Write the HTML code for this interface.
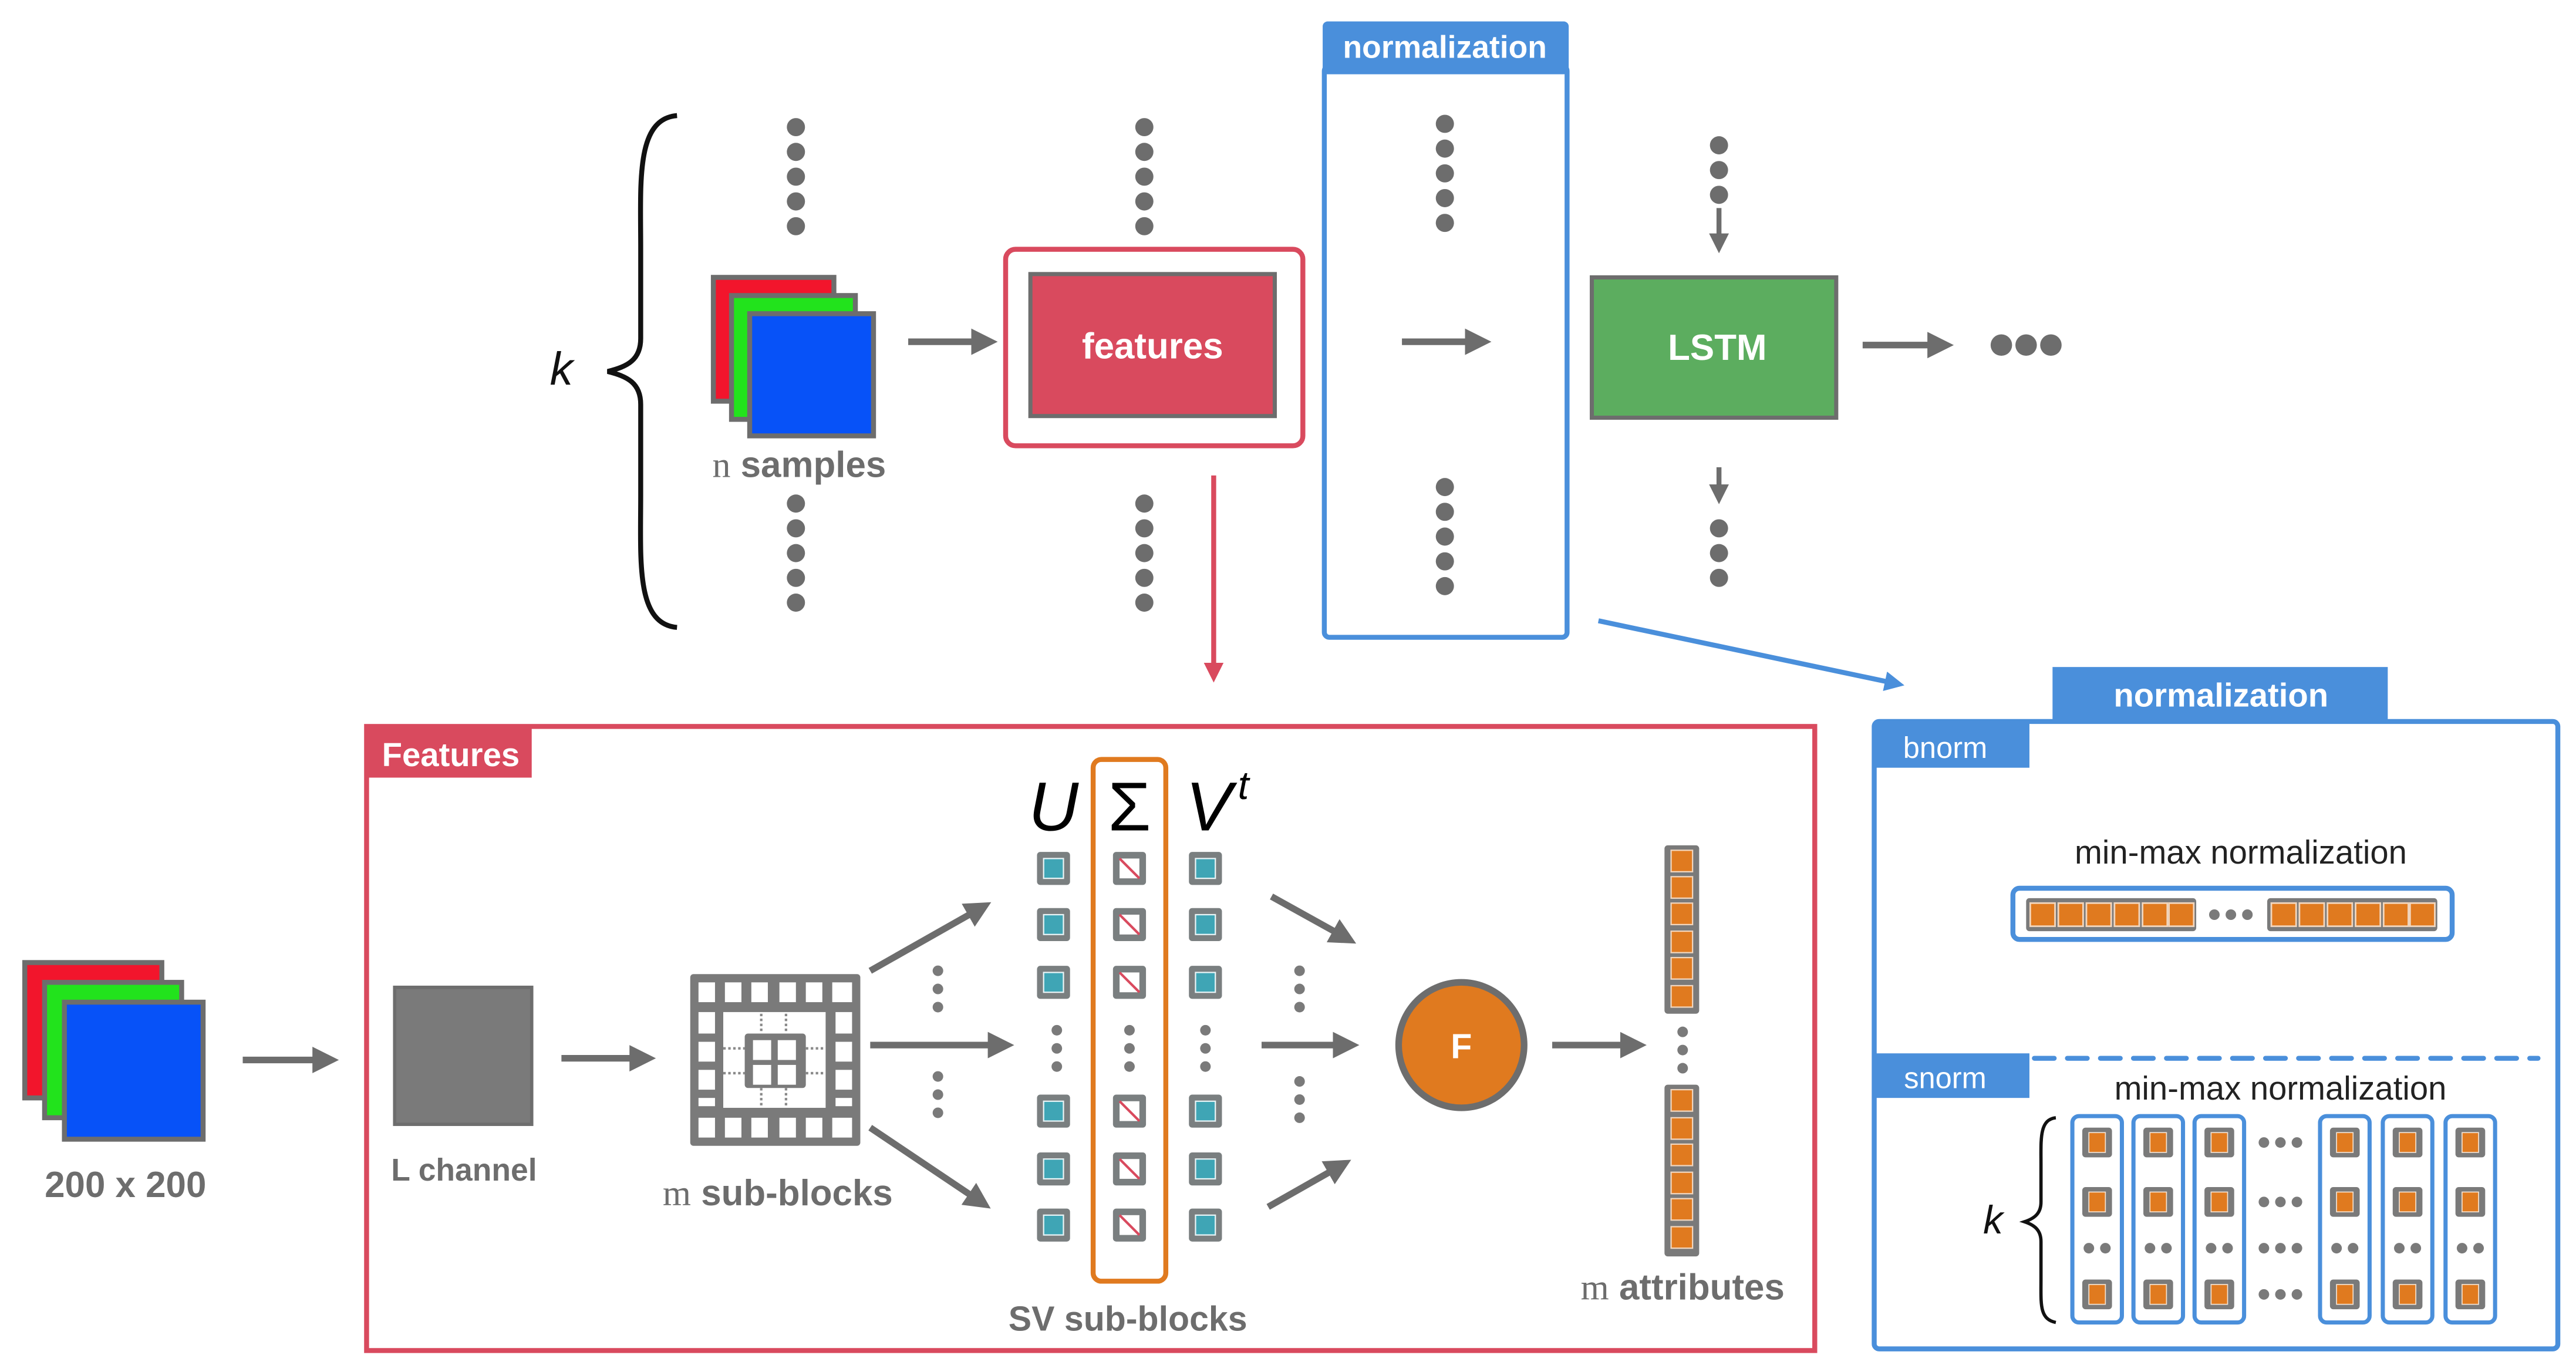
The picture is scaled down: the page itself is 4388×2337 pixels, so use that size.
<!DOCTYPE html>
<html><head><meta charset="utf-8"><style>
html,body{margin:0;padding:0;background:#fff;}
svg{display:block;}
text{font-family:"Liberation Sans",sans-serif;}
</style></head><body>
<svg width="4388" height="2337" viewBox="0 0 1560 831" preserveAspectRatio="none" xmlns="http://www.w3.org/2000/svg">
<defs>
<marker id="ah" markerWidth="4" markerHeight="4" refX="2.2" refY="2" orient="auto" markerUnits="strokeWidth"><path d="M0,0 L4,2 L0,4 z" fill="#6d6d6d"/></marker>
<marker id="ahr" markerWidth="4" markerHeight="4" refX="2.2" refY="2" orient="auto" markerUnits="strokeWidth"><path d="M0,0 L4,2 L0,4 z" fill="#d94a5e"/></marker>
<marker id="ahb" markerWidth="4" markerHeight="4" refX="2.2" refY="2" orient="auto" markerUnits="strokeWidth"><path d="M0,0 L4,2 L0,4 z" fill="#4a8fdb"/></marker>
<g id="d"><circle r="5.5" fill="#6d6d6d"/></g>
<g id="sd"><circle r="3.2" fill="#7a7a7a"/></g>
<g id="col5"><use href="#d" y="0"/><use href="#d" y="15"/><use href="#d" y="30"/><use href="#d" y="45"/><use href="#d" y="60"/></g>
<g id="uc"><rect x="-10" y="-10" width="20" height="20" rx="2" fill="#7a7f80"/><rect x="-6" y="-6" width="12" height="12" fill="#3fa5b5" stroke="#e8f4f6" stroke-width="0.8"/></g>
<g id="sc"><rect x="-10" y="-10" width="20" height="20" rx="2" fill="#7a7f80"/><rect x="-6" y="-6" width="12" height="12" fill="#fff"/><line x1="-6" y1="-6" x2="6" y2="6" stroke="#d94a5e" stroke-width="1.5"/></g>
<g id="oc"><rect x="-9" y="-9" width="18" height="18" rx="2" fill="#7a7a7a"/><rect x="-5" y="-6" width="10" height="12" fill="#e07a1f" stroke="#f5e2d0" stroke-width="0.6"/></g>
<g id="sq"><rect x="-7.5" y="-7" width="15" height="14" fill="#e07a1f" stroke="#f2d6bd" stroke-width="1"/></g>
<g id="vd"><use href="#sd" y="0"/><use href="#sd" y="11"/><use href="#sd" y="22"/></g>
<g id="scol"><rect x="-15" y="0" width="30" height="125" rx="4" fill="#fff" stroke="#4a8fdb" stroke-width="2.5"/><use href="#oc" y="16"/><use href="#oc" y="52"/><use href="#sd" x="-5" y="80"/><use href="#sd" x="5" y="80"/><use href="#oc" y="108"/></g>
</defs>

<!-- ===== TOP ===== -->
<path d="M410,70 C385,72 388,110 388,150 L388,205 C388,218 380,222 368,225 C380,228 388,232 388,245 L388,300 C388,340 385,378 410,380" fill="none" stroke="#111" stroke-width="3"/>
<text x="340" y="233" font-family="Liberation Serif,serif" font-style="italic" font-size="28" text-anchor="middle" fill="#111">k</text>

<use href="#col5" x="482" y="77"/><use href="#col5" x="482" y="305"/>
<rect x="432" y="168" width="73" height="75" fill="#f2152c" stroke="#6d6d6d" stroke-width="3"/>
<rect x="443" y="179" width="75" height="75" fill="#22e31c" stroke="#6d6d6d" stroke-width="3"/>
<rect x="454" y="190" width="75" height="74" fill="#0752f8" stroke="#6d6d6d" stroke-width="3"/>
<text x="484" y="289" font-size="22" font-weight="bold" text-anchor="middle" fill="#6d6d6d"><tspan font-family="Liberation Serif,serif" font-weight="normal">n</tspan> samples</text>
<line x1="550" y1="207" x2="597" y2="207" stroke="#6d6d6d" stroke-width="4" marker-end="url(#ah)"/>

<rect x="609" y="151" width="180" height="119" rx="6" fill="#fff" stroke="#d94a5e" stroke-width="3"/>
<rect x="624" y="166" width="148" height="86" fill="#d94a5e" stroke="#6d6d6d" stroke-width="2.5"/>
<text x="698" y="217" font-size="22" font-weight="bold" text-anchor="middle" fill="#fff">features</text>
<use href="#col5" x="693" y="77"/><use href="#col5" x="693" y="305"/>
<line x1="735" y1="288" x2="735" y2="408" stroke="#d94a5e" stroke-width="3" marker-end="url(#ahr)"/>

<rect x="802" y="40" width="147" height="346" rx="3" fill="#fff" stroke="#4a8fdb" stroke-width="3"/>
<rect x="801" y="13" width="149" height="32" rx="3" fill="#4a8fdb"/>
<text x="875" y="35" font-size="19" font-weight="bold" text-anchor="middle" fill="#fff">normalization</text>
<use href="#col5" x="875" y="75"/><use href="#col5" x="875" y="295"/>
<line x1="849" y1="207" x2="896" y2="207" stroke="#6d6d6d" stroke-width="4" marker-end="url(#ah)"/>

<rect x="964" y="168" width="148" height="85" fill="#5cad5f" stroke="#6d6d6d" stroke-width="2.5"/>
<text x="1040" y="218" font-size="22" font-weight="bold" text-anchor="middle" fill="#fff">LSTM</text>
<use href="#d" x="1041" y="88"/><use href="#d" x="1041" y="103"/><use href="#d" x="1041" y="118"/>
<line x1="1041" y1="126" x2="1041" y2="148" stroke="#6d6d6d" stroke-width="3" marker-end="url(#ah)"/>
<line x1="1041" y1="283" x2="1041" y2="300" stroke="#6d6d6d" stroke-width="3" marker-end="url(#ah)"/>
<use href="#d" x="1041" y="320"/><use href="#d" x="1041" y="335"/><use href="#d" x="1041" y="350"/>
<line x1="1128" y1="209" x2="1176" y2="209" stroke="#6d6d6d" stroke-width="4" marker-end="url(#ah)"/>
<circle cx="1212" cy="209" r="6.5" fill="#6d6d6d"/><circle cx="1227" cy="209" r="6.5" fill="#6d6d6d"/><circle cx="1242" cy="209" r="6.5" fill="#6d6d6d"/>
<line x1="968" y1="376" x2="1148" y2="414" stroke="#4a8fdb" stroke-width="3" marker-end="url(#ahb)"/>

<!-- ===== FEATURES ===== -->
<rect x="222" y="440" width="877" height="378" fill="none" stroke="#d94a5e" stroke-width="3"/>
<rect x="222" y="440" width="100" height="31" fill="#d94a5e"/>
<text x="273" y="464" font-size="20" font-weight="bold" text-anchor="middle" fill="#fff">Features</text>

<rect x="15" y="583" width="83" height="82" fill="#f2152c" stroke="#6d6d6d" stroke-width="3"/>
<rect x="27" y="595" width="83" height="82" fill="#22e31c" stroke="#6d6d6d" stroke-width="3"/>
<rect x="39" y="607" width="84" height="83" fill="#0752f8" stroke="#6d6d6d" stroke-width="3"/>
<text x="76" y="725" font-size="22" font-weight="bold" text-anchor="middle" fill="#6d6d6d">200 x 200</text>
<line x1="147" y1="642" x2="198" y2="642" stroke="#6d6d6d" stroke-width="4" marker-end="url(#ah)"/>

<rect x="239" y="598" width="83" height="83" fill="#7a7a7a" stroke="#6d6d6d" stroke-width="2"/>
<text x="281" y="715" font-size="19" font-weight="bold" text-anchor="middle" fill="#6d6d6d">L channel</text>
<line x1="340" y1="641" x2="390" y2="641" stroke="#6d6d6d" stroke-width="4" marker-end="url(#ah)"/>

<!-- sub-blocks grid -->
<g>
<rect x="418" y="590" width="103" height="104" rx="2" fill="#7a7a7a"/>
<g fill="#fff">
<rect x="423" y="595" width="10" height="12"/><rect x="439" y="595" width="10" height="12"/><rect x="455" y="595" width="10" height="12"/><rect x="472" y="595" width="10" height="12"/><rect x="488" y="595" width="10" height="12"/><rect x="504" y="595" width="12" height="12"/>
<rect x="423" y="677" width="10" height="12"/><rect x="439" y="677" width="10" height="12"/><rect x="455" y="677" width="10" height="12"/><rect x="472" y="677" width="10" height="12"/><rect x="488" y="677" width="10" height="12"/><rect x="504" y="677" width="12" height="12"/>
<rect x="423" y="613" width="10" height="13"/><rect x="423" y="631" width="10" height="12"/><rect x="423" y="648" width="10" height="12"/><rect x="423" y="665" width="10" height="5"/>
<rect x="506" y="613" width="10" height="13"/><rect x="506" y="631" width="10" height="12"/><rect x="506" y="648" width="10" height="12"/><rect x="506" y="665" width="10" height="5"/>
<rect x="438" y="613" width="62" height="58"/>
</g>
<rect x="451" y="626" width="37" height="33" rx="2" fill="#7a7a7a"/>
<rect x="456" y="630" width="11" height="12" fill="#fff"/><rect x="471" y="630" width="11" height="12" fill="#fff"/>
<rect x="456" y="645" width="11" height="12" fill="#fff"/><rect x="471" y="645" width="11" height="12" fill="#fff"/>
<g stroke="#8a8a8a" stroke-width="1.5" stroke-dasharray="1.5,1.5">
<line x1="461" y1="614" x2="461" y2="626"/><line x1="476" y1="614" x2="476" y2="626"/>
<line x1="461" y1="659" x2="461" y2="671"/><line x1="476" y1="659" x2="476" y2="671"/>
<line x1="438" y1="635" x2="451" y2="635"/><line x1="438" y1="650" x2="451" y2="650"/>
<line x1="488" y1="635" x2="500" y2="635"/><line x1="488" y1="650" x2="500" y2="650"/>
</g>
</g>
<text x="471" y="730" font-size="22" font-weight="bold" text-anchor="middle" fill="#6d6d6d"><tspan font-family="Liberation Serif,serif" font-weight="normal">m</tspan> sub-blocks</text>

<line x1="527" y1="588" x2="594" y2="550" stroke="#6d6d6d" stroke-width="4" marker-end="url(#ah)"/>
<line x1="527" y1="633" x2="607" y2="633" stroke="#6d6d6d" stroke-width="4" marker-end="url(#ah)"/>
<line x1="527" y1="683" x2="594" y2="728" stroke="#6d6d6d" stroke-width="4" marker-end="url(#ah)"/>
<use href="#vd" x="568" y="588"/><use href="#vd" x="568" y="652"/>

<!-- SVD -->
<text x="638" y="503" font-family="Liberation Serif,serif" font-style="italic" font-size="42" text-anchor="middle" fill="#000">U</text>
<text x="684" y="503" font-family="Liberation Serif,serif" font-size="42" text-anchor="middle" fill="#000">Σ</text>
<text x="732" y="503" font-family="Liberation Serif,serif" font-style="italic" font-size="42" text-anchor="middle" fill="#000">V</text>
<text x="753" y="484" font-family="Liberation Serif,serif" font-style="italic" font-size="24" text-anchor="middle" fill="#000">t</text>
<rect x="662" y="460" width="44" height="316" rx="5" fill="none" stroke="#e07a1f" stroke-width="3"/>
<use href="#uc" x="638" y="526"/><use href="#uc" x="638" y="560"/><use href="#uc" x="638" y="595"/><use href="#uc" x="638" y="673"/><use href="#uc" x="638" y="708"/><use href="#uc" x="638" y="742"/>
<use href="#sc" x="684" y="526"/><use href="#sc" x="684" y="560"/><use href="#sc" x="684" y="595"/><use href="#sc" x="684" y="673"/><use href="#sc" x="684" y="708"/><use href="#sc" x="684" y="742"/>
<use href="#uc" x="730" y="526"/><use href="#uc" x="730" y="560"/><use href="#uc" x="730" y="595"/><use href="#uc" x="730" y="673"/><use href="#uc" x="730" y="708"/><use href="#uc" x="730" y="742"/>
<use href="#vd" x="640" y="624"/><use href="#vd" x="684" y="624"/><use href="#vd" x="730" y="624"/>
<text x="683" y="806" font-size="21" font-weight="bold" text-anchor="middle" fill="#6d6d6d">SV sub-blocks</text>

<line x1="770" y1="543" x2="815" y2="568" stroke="#6d6d6d" stroke-width="4" marker-end="url(#ah)"/>
<line x1="764" y1="633" x2="816" y2="633" stroke="#6d6d6d" stroke-width="4" marker-end="url(#ah)"/>
<line x1="768" y1="731" x2="812" y2="706" stroke="#6d6d6d" stroke-width="4" marker-end="url(#ah)"/>
<use href="#vd" x="787" y="588"/><use href="#vd" x="787" y="655"/>

<circle cx="885" cy="633" r="38" fill="#e07a1f" stroke="#6d6d6d" stroke-width="4"/>
<text x="885" y="641" font-size="21" font-weight="bold" text-anchor="middle" fill="#fff">F</text>
<line x1="940" y1="633" x2="990" y2="633" stroke="#6d6d6d" stroke-width="4" marker-end="url(#ah)"/>

<rect x="1008" y="512" width="21" height="102" rx="2" fill="#7a7a7a"/>
<rect x="1008" y="657" width="21" height="104" rx="2" fill="#7a7a7a"/>
<g fill="#e07a1f" stroke="#f2d6bd" stroke-width="0.8">
<rect x="1012" y="515" width="13" height="13"/><rect x="1012" y="531" width="13" height="13"/><rect x="1012" y="547" width="13" height="13"/><rect x="1012" y="564" width="13" height="13"/><rect x="1012" y="580" width="13" height="13"/><rect x="1012" y="597" width="13" height="13"/>
<rect x="1012" y="660" width="13" height="13"/><rect x="1012" y="677" width="13" height="13"/><rect x="1012" y="693" width="13" height="13"/><rect x="1012" y="710" width="13" height="13"/><rect x="1012" y="726" width="13" height="13"/><rect x="1012" y="743" width="13" height="13"/>
</g>
<use href="#vd" x="1019" y="625"/>
<text x="1019" y="787" font-size="22" font-weight="bold" text-anchor="middle" fill="#6d6d6d"><tspan font-family="Liberation Serif,serif" font-weight="normal">m</tspan> attributes</text>

<!-- ===== NORMALIZATION DETAIL ===== -->
<rect x="1135" y="437" width="414" height="380" rx="3" fill="#fff" stroke="#4a8fdb" stroke-width="3"/>
<rect x="1243" y="404" width="203" height="34" fill="#4a8fdb"/>
<text x="1345" y="428" font-size="20" font-weight="bold" text-anchor="middle" fill="#fff">normalization</text>
<rect x="1135" y="437" width="94" height="28" fill="#4a8fdb"/>
<text x="1178" y="459" font-size="18" text-anchor="middle" fill="#fff">bnorm</text>
<text x="1357" y="523" font-size="20" text-anchor="middle" fill="#222">min-max normalization</text>
<rect x="1219" y="538" width="266" height="31" rx="4" fill="#fff" stroke="#4a8fdb" stroke-width="3"/>
<rect x="1227" y="544" width="103" height="20" rx="2" fill="#7a7a7a"/>
<rect x="1373" y="544" width="103" height="20" rx="2" fill="#7a7a7a"/>
<use href="#sq" x="1237" y="554"/><use href="#sq" x="1254" y="554"/><use href="#sq" x="1271" y="554"/><use href="#sq" x="1288" y="554"/><use href="#sq" x="1305" y="554"/><use href="#sq" x="1321" y="554"/>
<use href="#sq" x="1383" y="554"/><use href="#sq" x="1400" y="554"/><use href="#sq" x="1417" y="554"/><use href="#sq" x="1434" y="554"/><use href="#sq" x="1451" y="554"/><use href="#sq" x="1467" y="554"/>
<use href="#sd" x="1341" y="554"/><use href="#sd" x="1351" y="554"/><use href="#sd" x="1361" y="554"/>

<line x1="1232" y1="641" x2="1537" y2="641" stroke="#4a8fdb" stroke-width="3" stroke-dasharray="12,8" stroke-linecap="round"/>
<rect x="1135" y="638" width="94" height="27" fill="#4a8fdb"/>
<text x="1178" y="659" font-size="18" text-anchor="middle" fill="#fff">snorm</text>
<text x="1381" y="666" font-size="20" text-anchor="middle" fill="#222">min-max normalization</text>
<text x="1207" y="747" font-family="Liberation Serif,serif" font-style="italic" font-size="24" text-anchor="middle" fill="#111">k</text>
<path d="M1245,677 C1235,678 1236,690 1236,705 L1236,728 C1236,735 1232,738 1226,740 C1232,742 1236,745 1236,752 L1236,775 C1236,790 1235,799 1245,801" fill="none" stroke="#111" stroke-width="2"/>
<use href="#scol" x="1270" y="676"/><use href="#scol" x="1307" y="676"/><use href="#scol" x="1344" y="676"/>
<use href="#scol" x="1420" y="676"/><use href="#scol" x="1458" y="676"/><use href="#scol" x="1496" y="676"/>
<g>
<use href="#sd" x="1371" y="692"/><use href="#sd" x="1381" y="692"/><use href="#sd" x="1391" y="692"/>
<use href="#sd" x="1371" y="728"/><use href="#sd" x="1381" y="728"/><use href="#sd" x="1391" y="728"/>
<use href="#sd" x="1371" y="756"/><use href="#sd" x="1381" y="756"/><use href="#sd" x="1391" y="756"/>
<use href="#sd" x="1371" y="784"/><use href="#sd" x="1381" y="784"/><use href="#sd" x="1391" y="784"/>
</g>
</svg>
</body></html>
